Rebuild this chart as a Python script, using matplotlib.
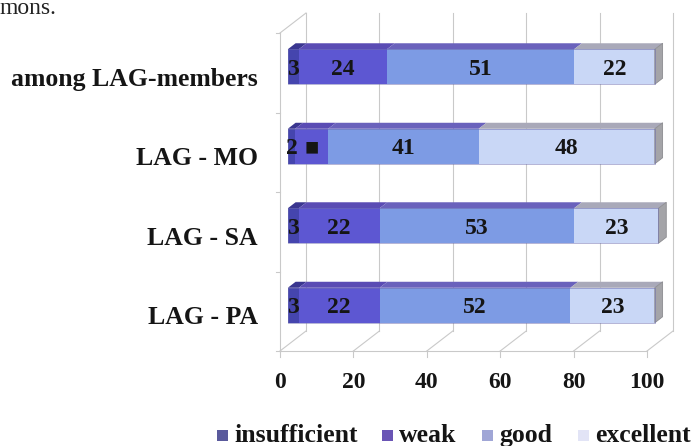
import numpy as np
import matplotlib
matplotlib.use("Agg")
import matplotlib.pyplot as plt
import matplotlib.transforms as mtransforms
from matplotlib.patches import Polygon, Rectangle

# survey answers, per cent
groups = ["among LAG-members", "LAG - MO", "LAG - SA", "LAG - PA"]
levels = ["insufficient", "weak", "good", "excellent"]
insufficient = [3, 2, 3, 3]
weak = [24, 9, 22, 22]
good = [51, 41, 53, 52]
excellent = [22, 48, 23, 23]
value_labels = [
    ["3", "24", "51", "22"],
    ["2", "\u25a0", "41", "48"],
    ["3", "22", "53", "23"],
    ["3", "22", "52", "23"],
]
xticks = [0, 20, 40, 60, 80, 100]

face_colors = ["#4545ae", "#5d57d2", "#7d9be4", "#c9d7f6"]
top_colors = ["#3a3690", "#5a4cb4", "#6a62bc", "#a9a9b9"]
legend_colors = ["#5a5a9c", "#6a55b5", "#a0a6d6", "#e2e4f6"]

W, H = 698, 446
fig = plt.figure(figsize=(W / 100, H / 100), dpi=100)
fig.patch.set_facecolor("white")

# axes area = the front edge of the 3d floor / left wall
left_px, right_px, top_px, bot_px = 280, 647, 33, 351
ax = fig.add_axes([left_px / W, 1 - bot_px / H,
                   (right_px - left_px) / W, (bot_px - top_px) / H])
ax.set_xlim(0, 100)
ax.set_ylim(3.5, -0.5)
ax.set_facecolor("none")
for s in ax.spines.values():
    s.set_visible(False)

px_x = (right_px - left_px) / 100.0
px_y = (bot_px - top_px) / 4.0
# depth vector (full depth) in data units
DX = 26 / px_x
DY = 20 / px_y


def proj(x, y, z):
    return x + z * DX, y - z * DY


grid_col = "#c9c9c9"
# back wall grid lines
for t in xticks:
    x0, y0 = proj(t, 3.5, 1)
    x1, y1 = proj(t, -0.5, 1)
    ax.plot([x0, x1], [y0, y1], color=grid_col, lw=0.8, zorder=1, clip_on=False)
    # floor diagonals
    fx, fy = proj(t, 3.5, 0)
    ax.plot([fx, x0], [fy, y0], color=grid_col, lw=0.8, zorder=1, clip_on=False)
    # tick marks under the floor edge
    ax.plot([t, t], [3.5, 3.57], color=grid_col, lw=0.8, zorder=1, clip_on=False)

# floor front edge and left wall
ax.plot([0, 100], [3.5, 3.5], color=grid_col, lw=0.8, zorder=1, clip_on=False)
ax.plot([0, 0], [3.5, -0.5], color=grid_col, lw=0.8, zorder=1, clip_on=False)
bx, by = proj(0, -0.5, 1)
ax.plot([0, bx], [-0.5, by], color=grid_col, lw=0.8, zorder=1, clip_on=False)
for b in np.arange(-0.5, 3.6, 1.0):
    ax.plot([-1.0, 0], [b, b], color=grid_col, lw=0.8, zorder=1, clip_on=False)

# stacked 3d bars
zf, zb = 0.3, 0.6
bar_h = 0.44
series = np.array([insufficient, weak, good, excellent], dtype=float)
starts = np.vstack([np.zeros(len(groups)), np.cumsum(series, axis=0)[:-1]])
bfont = dict(family=["Liberation Serif", "DejaVu Sans"], weight="bold",
             size=17, color="#151515")

for i in range(len(groups)):
    yc = i - zf * DY
    ytop = yc - bar_h / 2
    for k in range(len(levels)):
        x0 = starts[k, i] + zf * DX
        w = series[k, i]
        ax.barh(yc, w, left=x0, height=bar_h, color=face_colors[k],
                edgecolor="none", zorder=3, clip_on=False)
        # top face of the segment
        p0 = (x0, ytop)
        p1 = (x0 + w, ytop)
        p2 = (x0 + w + (zb - zf) * DX, ytop - (zb - zf) * DY)
        p3 = (x0 + (zb - zf) * DX, ytop - (zb - zf) * DY)
        ax.add_patch(Polygon([p0, p1, p2, p3], closed=True, facecolor=top_colors[k],
                             edgecolor="none", zorder=3, clip_on=False))
        ax.text(x0 + w / 2, yc + 0.03, value_labels[i][k], ha="center",
                va="center", zorder=5, **bfont)
    # right end face
    xe = starts[-1, i] + series[-1, i] + zf * DX
    ybot = yc + bar_h / 2
    ddx, ddy = (zb - zf) * DX, (zb - zf) * DY
    ax.add_patch(Polygon([(xe, ytop), (xe + ddx, ytop - ddy),
                          (xe + ddx, ybot - ddy), (xe, ybot)], closed=True,
                         facecolor="#a4a4a8", edgecolor="#8c8c90", lw=0.6,
                         zorder=3, clip_on=False))
    # thin outline on the front face
    ax.plot([zf * DX, xe, xe, zf * DX, zf * DX], [ytop, ytop, ybot, ybot, ytop],
            color="#6f6fb0", lw=0.6, zorder=4, alpha=0.6, clip_on=False)

# axis labels
ax.set_xticks(xticks)
ax.set_xticklabels([str(t) for t in xticks])
ax.set_yticks(range(len(groups)))
ax.set_yticklabels(groups)
ax.tick_params(length=0)
ax.tick_params(axis="x", pad=15)
ax.tick_params(axis="y", pad=16)
for lab in ax.get_xticklabels():
    lab.set_fontsize(17)
for lab in ax.get_yticklabels():
    lab.set_fontsize(18.5)
    lab.set_transform(lab.get_transform() +
                      mtransforms.ScaledTranslation(0, -4 / 100, fig.dpi_scale_trans))
for lab in ax.get_xticklabels() + ax.get_yticklabels():
    lab.set_fontfamily("Liberation Serif")
    lab.set_fontweight("bold")
    lab.set_color("#151515")

# legend row, laid out by hand so all entries share one baseline
legend_x = [217, 382, 482, 578]
for name, col, lx in zip(levels, legend_colors, legend_x):
    fig.patches.append(Rectangle((lx / W, 1 - 441 / H), 11 / W, 11 / H,
                                 transform=fig.transFigure, facecolor=col,
                                 edgecolor="none"))
    fig.text((lx + 17) / W, 1 - 442 / H, name, ha="left", va="baseline",
             fontsize=18.5, family="Liberation Serif", weight="bold",
             color="#151515")

# end of the preceding paragraph
fig.text(0.0, 1 - 14 / H, "mons.", ha="left", va="baseline", fontsize=17,
         family="Liberation Serif", color="#222222")

fig.savefig("out.png", dpi=100)
